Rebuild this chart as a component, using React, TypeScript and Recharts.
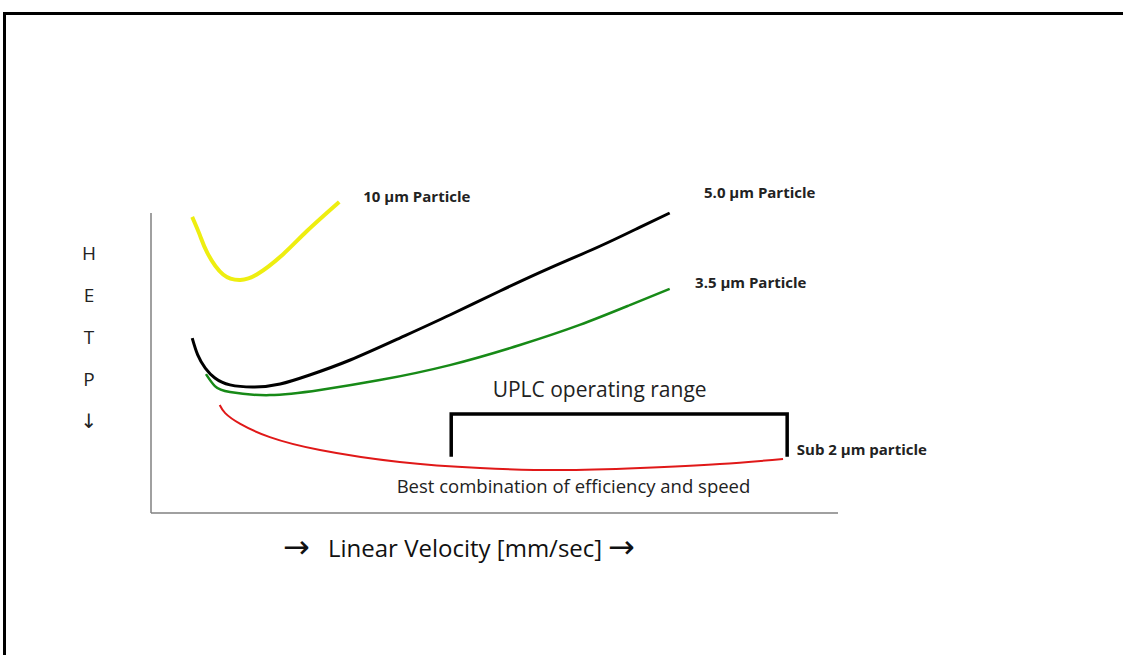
import { LineChart, Line, XAxis, YAxis, ReferenceLine, ReferenceDot } from 'recharts';

// velocity (0-100 arbitrary) vs HETP (0-100 = top of the drawn axis)
const particle10 = [
  { v: 6.0, h: 98.7 }, { v: 7.1, h: 92.7 }, { v: 8.2, h: 86.7 }, { v: 10.5, h: 79.5 },
  { v: 13.0, h: 77.7 }, { v: 15.4, h: 79.5 }, { v: 19.2, h: 86.2 }, { v: 22.7, h: 94 },
  { v: 27.4, h: 103.7 },
];
const particle50 = [
  { v: 6.0, h: 58.3 }, { v: 6.8, h: 52.7 }, { v: 7.9, h: 48.3 }, { v: 9.3, h: 45 },
  { v: 11.5, h: 42.7 }, { v: 15.1, h: 42 }, { v: 18.8, h: 43 }, { v: 23.1, h: 46 },
  { v: 29.0, h: 51 }, { v: 36.2, h: 58.3 }, { v: 43.5, h: 66 }, { v: 50.8, h: 74 },
  { v: 58.1, h: 81.7 }, { v: 65.4, h: 89 }, { v: 71.2, h: 95.3 }, { v: 75.5, h: 100 },
];
const particle35 = [
  { v: 8.0, h: 46.3 }, { v: 9.3, h: 42.3 }, { v: 11.5, h: 40.3 }, { v: 17.3, h: 39.3 },
  { v: 24.6, h: 41 }, { v: 33.3, h: 44.3 }, { v: 43.5, h: 49.3 }, { v: 53.7, h: 56 },
  { v: 62.4, h: 62.7 }, { v: 69.7, h: 69.3 }, { v: 75.5, h: 74.7 },
];
const particleSub2 = [
  { v: 10.0, h: 36.0 }, { v: 10.8, h: 33.3 }, { v: 13.0, h: 29.7 }, { v: 17.3, h: 25.3 },
  { v: 24.6, h: 21 }, { v: 36.2, h: 17 }, { v: 47.9, h: 15 }, { v: 59.5, h: 14.3 },
  { v: 71.2, h: 15 }, { v: 82.8, h: 16.3 }, { v: 92.0, h: 18 },
];
// UPLC operating range bracket
const uplcRange = [
  { v: 43.7, h: 19.3 }, { v: 43.7, h: 33 }, { v: 92.6, h: 33 }, { v: 92.6, h: 19.3 },
];
const yLetters = ['H', 'E', 'T', 'P', '↓'];

const font = '"Open Sans", sans-serif';
const arrowFont = '"DejaVu Sans"';
const tag = { fill: '#222', fontSize: 15, fontWeight: 700, fontFamily: font };

export default function App() {
  return (
    <div style={{ position: 'absolute', left: 0, top: 0, width: 1123, height: 655, background: '#fff' }}>
      <div style={{ position: 'absolute', left: 3, top: 12, right: 0, bottom: 0, borderTop: '3px solid #000', borderLeft: '3px solid #000' }} />
      <LineChart width={1123} height={655} margin={{ top: 183, right: 285, bottom: 142, left: 151 }}>
        <XAxis type="number" dataKey="v" domain={[0, 100]} hide allowDuplicatedCategory={false} />
        <YAxis type="number" dataKey="h" domain={[0, 110]} width={0} hide />
        <ReferenceLine segment={[{ x: 0, y: 0 }, { x: 0, y: 100 }]} stroke="#808080" strokeWidth={1.5} />
        <ReferenceLine segment={[{ x: 0, y: 0 }, { x: 100, y: 0 }]} stroke="#808080" strokeWidth={1.5} />
        <Line data={particle10} dataKey="h" type="natural" stroke="#eeee10" strokeWidth={4} dot={false} isAnimationActive={false} />
        <Line data={particle50} dataKey="h" type="natural" stroke="#000" strokeWidth={3} dot={false} isAnimationActive={false} />
        <Line data={particle35} dataKey="h" type="natural" stroke="#178a17" strokeWidth={2.5} dot={false} isAnimationActive={false} />
        <Line data={particleSub2} dataKey="h" type="natural" stroke="#e01818" strokeWidth={2} dot={false} isAnimationActive={false} />
        <Line data={uplcRange} dataKey="h" type="linear" stroke="#000" strokeWidth={3.5} strokeLinejoin="miter" strokeLinecap="square" dot={false} isAnimationActive={false} />
        <ReferenceDot x={30.9} y={105.3} r={0} fill="none" stroke="none" label={{ value: '10 µm Particle', position: 'right', offset: 0, ...tag }} />
        <ReferenceDot x={80.5} y={106.7} r={0} fill="none" stroke="none" label={{ value: '5.0 µm Particle', position: 'right', offset: 0, ...tag }} />
        <ReferenceDot x={79.2} y={76.7} r={0} fill="none" stroke="none" label={{ value: '3.5 µm Particle', position: 'right', offset: 0, ...tag }} />
        <ReferenceDot x={94.0} y={21} r={0} fill="none" stroke="none" label={{ value: 'Sub 2 µm particle', position: 'right', offset: 0, ...tag }} />
        <ReferenceDot x={65.3} y={41} r={0} fill="none" stroke="none" label={{ value: 'UPLC operating range', position: 'center', fill: '#222', fontSize: 21, fontFamily: font }} />
        <ReferenceDot x={61.5} y={9} r={0} fill="none" stroke="none" label={{ value: 'Best combination of efficiency and speed', position: 'center', fill: '#222', fontSize: 18.5, fontFamily: font }} />
      </LineChart>
      {yLetters.map((t, i) => (
        <div key={t} style={{ position: 'absolute', left: 74, width: 30, top: 241 + i * 42, textAlign: 'center', fontFamily: t === '↓' ? arrowFont : font, fontSize: t === '↓' ? 20 : 19, lineHeight: '24px', color: '#222' }}>{t}</div>
      ))}
      <div style={{ position: 'absolute', left: 283, top: 529, fontFamily: arrowFont, fontSize: 32, lineHeight: '36px', color: '#111' }}>→</div>
      <div style={{ position: 'absolute', left: 328, top: 532, fontFamily: font, fontSize: 24, lineHeight: '32px', color: '#111', whiteSpace: 'nowrap' }}>Linear Velocity [mm/sec]</div>
      <div style={{ position: 'absolute', left: 608, top: 529, fontFamily: arrowFont, fontSize: 32, lineHeight: '36px', color: '#111' }}>→</div>
    </div>
  );
}
